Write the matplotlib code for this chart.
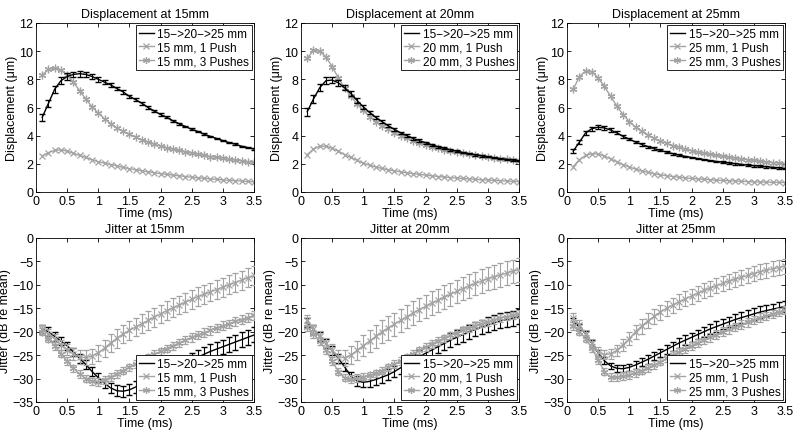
import numpy as np
import matplotlib
matplotlib.use("Agg")
import matplotlib.pyplot as plt
from matplotlib.lines import Line2D

t = np.round(np.arange(1, 36) * 0.1, 1)

depths = ["15", "20", "25"]

# displacement (um), black = 15->20->25 mm sequence
disp_seq = {
    "15": [5.3, 6.3, 7.3, 7.9, 8.2, 8.35, 8.4, 8.35, 8.2, 8.0, 7.8, 7.6, 7.35, 7.1, 6.8, 6.55, 6.3, 6.0,
           5.75, 5.5, 5.3, 5.05, 4.85, 4.65, 4.45, 4.3, 4.1, 3.95, 3.8, 3.65, 3.5, 3.4, 3.25, 3.15, 3.05],
    "20": [5.7, 6.6, 7.4, 7.9, 7.95, 7.75, 7.4, 7.0, 6.5, 6.05, 5.65, 5.3, 5.0, 4.7, 4.45, 4.2, 4.0, 3.8,
           3.65, 3.5, 3.35, 3.22, 3.1, 3.0, 2.9, 2.8, 2.72, 2.64, 2.57, 2.5, 2.43, 2.37, 2.32, 2.27, 2.22],
    "25": [2.9, 3.55, 4.2, 4.5, 4.6, 4.55, 4.4, 4.2, 3.95, 3.75, 3.55, 3.38, 3.22, 3.08, 2.95, 2.83, 2.72,
           2.62, 2.53, 2.45, 2.37, 2.3, 2.23, 2.17, 2.11, 2.06, 2.01, 1.96, 1.91, 1.87, 1.83, 1.79, 1.75,
           1.71, 1.67],
}
disp_seq_err = {
    "15": [0.25, 0.25, 0.25, 0.25, 0.22, 0.2, 0.2, 0.2, 0.18, 0.16, 0.15, 0.14, 0.13, 0.12, 0.12, 0.11,
           0.1, 0.1, 0.09, 0.09, 0.08, 0.08, 0.07, 0.07, 0.07, 0.06, 0.06, 0.06, 0.06, 0.05, 0.05, 0.05,
           0.05, 0.05, 0.05],
    "20": [0.3, 0.28, 0.26, 0.25, 0.22, 0.2, 0.18, 0.17, 0.15, 0.14, 0.13, 0.12, 0.11, 0.1, 0.1, 0.09,
           0.09, 0.08, 0.08, 0.07, 0.07, 0.07, 0.06, 0.06, 0.06, 0.06, 0.05, 0.05, 0.05, 0.05, 0.05, 0.05,
           0.05, 0.05, 0.05],
    "25": [0.15, 0.15, 0.15, 0.14, 0.13, 0.12, 0.11, 0.1, 0.1, 0.09, 0.09, 0.08, 0.08, 0.08, 0.07, 0.07,
           0.07, 0.07, 0.06, 0.06, 0.06, 0.06, 0.06, 0.06, 0.06, 0.06, 0.06, 0.06, 0.06, 0.06, 0.06, 0.06,
           0.06, 0.06, 0.06],
}
disp_1push = {
    "15": [2.55, 2.8, 2.95, 3.0, 2.9, 2.75, 2.6, 2.45, 2.3, 2.15, 2.05, 1.95, 1.85, 1.75, 1.65, 1.58, 1.5,
           1.43, 1.37, 1.3, 1.25, 1.2, 1.15, 1.1, 1.05, 1.0, 0.97, 0.93, 0.9, 0.86, 0.83, 0.8, 0.78, 0.75,
           0.72],
    "20": [2.65, 3.05, 3.25, 3.25, 3.1, 2.9, 2.65, 2.45, 2.25, 2.05, 1.9, 1.78, 1.67, 1.58, 1.5, 1.43, 1.36,
           1.3, 1.25, 1.2, 1.15, 1.1, 1.06, 1.02, 0.99, 0.96, 0.93, 0.9, 0.87, 0.85, 0.82, 0.8, 0.78, 0.76,
           0.74],
    "25": [1.8, 2.3, 2.6, 2.72, 2.7, 2.55, 2.35, 2.15, 1.95, 1.78, 1.62, 1.5, 1.4, 1.3, 1.22, 1.15, 1.1,
           1.05, 1.0, 0.96, 0.93, 0.9, 0.87, 0.84, 0.82, 0.8, 0.78, 0.76, 0.74, 0.72, 0.71, 0.7, 0.69, 0.68,
           0.67],
}
disp_3push = {
    "15": [8.3, 8.7, 8.8, 8.65, 8.3, 7.8, 7.2, 6.6, 6.05, 5.6, 5.2, 4.85, 4.55, 4.3, 4.1, 3.9, 3.7, 3.55,
           3.4, 3.25, 3.15, 3.05, 2.95, 2.85, 2.75, 2.67, 2.6, 2.52, 2.45, 2.4, 2.33, 2.27, 2.22, 2.15, 2.1],
    "20": [9.5, 10.05, 10.0, 9.6, 8.9, 8.1, 7.4, 6.8, 6.25, 5.8, 5.35, 5.0, 4.7, 4.45, 4.2, 4.0, 3.82,
           3.65, 3.5, 3.35, 3.22, 3.1, 3.0, 2.9, 2.82, 2.74, 2.67, 2.6, 2.54, 2.48, 2.42, 2.37, 2.32, 2.27,
           2.22],
    "25": [7.3, 8.2, 8.6, 8.55, 8.1, 7.5, 6.8, 6.1, 5.5, 5.0, 4.6, 4.3, 4.05, 3.82, 3.62, 3.45, 3.3, 3.17,
           3.05, 2.94, 2.84, 2.75, 2.67, 2.6, 2.53, 2.46, 2.4, 2.35, 2.29, 2.24, 2.19, 2.14, 2.09, 2.05,
           2.01],
}

# jitter (dB re mean)
jit_seq = {
    "15": [-19.5, -20.0, -21.0, -22.0, -23.0, -24.3, -25.7, -27.0, -28.5, -29.8, -31.0, -32.0, -32.6,
           -32.7, -32.4, -31.8, -31.2, -30.5, -29.8, -29.2, -28.5, -27.9, -27.2, -26.6, -26.0, -25.4,
           -24.8, -24.2, -23.7, -23.2, -22.7, -22.2, -21.7, -21.2, -20.7],
    "20": [-18.0, -19.5, -21.0, -22.5, -24.0, -25.7, -27.5, -29.5, -30.5, -30.8, -30.6, -30.2, -29.7,
           -29.2, -28.5, -27.7, -26.9, -26.1, -25.3, -24.6, -23.9, -23.2, -22.5, -21.8, -21.2, -20.6,
           -20.0, -19.5, -19.0, -18.5, -18.1, -17.7, -17.4, -17.1, -16.8],
    "25": [-17.8, -19.0, -20.5, -22.5, -24.5, -26.2, -27.3, -27.8, -27.9, -27.6, -27.1, -26.5, -25.9,
           -25.2, -24.5, -23.8, -23.1, -22.4, -21.8, -21.2, -20.6, -20.0, -19.4, -18.9, -18.4, -17.9,
           -17.4, -17.0, -16.6, -16.2, -15.8, -15.5, -15.2, -14.9, -14.6],
}
jit_seq_err = {
    "15": [0.9, 0.9, 0.9, 0.9, 0.9, 0.9, 0.9, 0.9, 0.9, 0.9, 1.0, 1.1, 1.2, 1.2, 1.2, 1.2, 1.2, 1.3, 1.3,
           1.3, 1.3, 1.4, 1.4, 1.4, 1.4, 1.5, 1.5, 1.5, 1.5, 1.5, 1.6, 1.6, 1.6, 1.6, 1.6],
    "20": [0.9, 0.9, 0.9, 0.9, 0.9, 0.9, 0.9, 0.9, 1.0, 1.0, 1.1, 1.1, 1.2, 1.2, 1.2, 1.3, 1.3, 1.3, 1.3,
           1.4, 1.4, 1.4, 1.4, 1.5, 1.5, 1.5, 1.5, 1.5, 1.5, 1.6, 1.6, 1.6, 1.6, 1.6, 1.6],
    "25": [0.7, 0.7, 0.7, 0.7, 0.7, 0.7, 0.7, 0.7, 0.8, 0.8, 0.8, 0.9, 0.9, 0.9, 0.9, 1.0, 1.0, 1.0, 1.0,
           1.0, 1.0, 1.1, 1.1, 1.1, 1.1, 1.1, 1.1, 1.2, 1.2, 1.2, 1.2, 1.2, 1.2, 1.2, 1.2],
}
jit_1push = {
    "15": [-19.5, -20.5, -21.5, -22.8, -23.8, -24.7, -25.4, -25.5, -25.2, -24.5, -23.5, -22.4, -21.4,
           -20.5, -19.7, -19.0, -18.3, -17.6, -16.9, -16.2, -15.5, -14.9, -14.3, -13.7, -13.1, -12.5,
           -12.0, -11.5, -11.0, -10.5, -10.0, -9.5, -9.0, -8.5, -8.0],
    "20": [-17.5, -19.5, -21.0, -22.5, -24.0, -25.3, -25.6, -25.0, -24.0, -23.0, -22.0, -21.0, -20.0,
           -19.2, -18.4, -17.6, -16.8, -16.0, -15.3, -14.6, -13.9, -13.3, -12.6, -12.0, -11.4, -10.8,
           -10.2, -9.7, -9.2, -8.7, -8.3, -7.9, -7.5, -7.1, -6.8],
    "25": [-17.0, -18.5, -20.5, -22.5, -24.3, -24.9, -24.7, -24.0, -22.8, -21.5, -20.0, -18.8, -17.7,
           -16.7, -15.8, -15.0, -14.3, -13.6, -13.0, -12.4, -11.8, -11.2, -10.7, -10.2, -9.7, -9.2,
           -8.8, -8.4, -8.0, -7.6, -7.2, -6.9, -6.6, -6.3, -6.0],
}
jit_1push_err = {
    "15": [1.0, 1.0, 1.1, 1.1, 1.2, 1.3, 1.4, 1.5, 1.6, 1.7, 1.8, 1.9, 2.0, 2.0, 2.0, 2.0, 2.0, 2.0, 2.0,
           2.0, 2.0, 2.0, 2.0, 2.0, 2.0, 2.0, 2.0, 2.0, 2.0, 2.0, 2.0, 2.0, 2.0, 2.0, 2.0],
    "20": [1.0, 1.0, 1.1, 1.2, 1.3, 1.5, 1.7, 1.9, 2.0, 2.2, 2.3, 2.4, 2.5, 2.5, 2.5, 2.5, 2.5, 2.5, 2.5,
           2.5, 2.5, 2.5, 2.5, 2.5, 2.5, 2.5, 2.5, 2.5, 2.5, 2.5, 2.5, 2.5, 2.5, 2.5, 2.5],
    "25": [0.9, 0.9, 0.9, 1.0, 1.0, 1.0, 1.1, 1.2, 1.3, 1.4, 1.5, 1.6, 1.6, 1.6, 1.6, 1.6, 1.6, 1.6, 1.6,
           1.6, 1.6, 1.6, 1.6, 1.6, 1.6, 1.6, 1.6, 1.6, 1.6, 1.6, 1.6, 1.6, 1.6, 1.6, 1.6],
}
jit_3push = {
    "15": [-20.0, -21.5, -23.0, -24.7, -26.3, -27.8, -29.0, -30.0, -30.6, -30.7, -30.3, -29.7, -29.0,
           -28.3, -27.6, -26.9, -26.2, -25.5, -24.8, -24.2, -23.6, -23.0, -22.4, -21.8, -21.2, -20.7,
           -20.2, -19.7, -19.2, -18.7, -18.3, -17.8, -17.4, -17.0, -16.5],
    "20": [-19.0, -20.5, -22.0, -24.0, -26.3, -28.5, -29.8, -30.1, -29.9, -29.6, -29.3, -28.9, -28.3,
           -27.6, -26.9, -26.2, -25.5, -24.7, -24.0, -23.3, -22.6, -22.0, -21.4, -20.8, -20.2, -19.7,
           -19.2, -18.7, -18.3, -17.9, -17.5, -17.1, -16.8, -16.5, -16.2],
    "25": [-18.8, -20.0, -21.5, -23.5, -26.0, -28.5, -29.7, -29.7, -29.5, -29.2, -28.8, -28.3, -27.7,
           -27.1, -26.4, -25.7, -25.0, -24.3, -23.6, -23.0, -22.4, -21.8, -21.2, -20.6, -20.0, -19.5,
           -19.0, -18.5, -18.0, -17.5, -17.0, -16.6, -16.2, -15.8, -15.4],
}
jit_3push_err = {
    "15": [0.8, 0.8, 0.8, 0.8, 0.8, 0.8, 0.8, 0.8, 0.8, 0.8, 0.8, 0.8, 0.8, 0.8, 0.8, 0.8, 0.8, 0.8, 0.8,
           0.8, 0.8, 0.8, 0.8, 0.8, 0.9, 0.9, 0.9, 0.9, 0.9, 0.9, 0.9, 0.9, 0.9, 0.9, 0.9],
    "20": [0.8, 0.8, 0.8, 0.8, 0.8, 0.8, 0.8, 0.8, 0.8, 0.8, 0.8, 0.8, 0.8, 0.8, 0.8, 0.8, 0.8, 0.8, 0.8,
           0.8, 0.8, 0.8, 0.8, 0.8, 0.8, 0.8, 0.8, 0.8, 0.8, 0.8, 0.8, 0.8, 0.8, 0.8, 0.8],
    "25": [0.8, 0.8, 0.8, 0.8, 0.8, 0.8, 0.8, 0.8, 0.8, 0.8, 0.8, 0.8, 0.8, 0.8, 0.8, 0.8, 0.8, 0.9, 0.9,
           0.9, 0.9, 0.9, 0.9, 0.9, 0.9, 0.9, 0.9, 0.9, 0.9, 0.9, 0.9, 0.9, 0.9, 0.9, 0.9],
}

xticks = [0, 0.5, 1, 1.5, 2, 2.5, 3, 3.5]
xticklabels = ["0", "0.5", "1", "1.5", "2", "2.5", "3", "3.5"]

plt.rcParams['font.family'] = ['Liberation Sans', 'DejaVu Sans']
plt.rcParams['font.size'] = 9

GRAY = '#a3a3a3'
ASTER = (6, 2, 0)

fig = plt.figure(figsize=(8.0, 4.35), dpi=100)
W, H = 800, 435
lefts = [36, 301, 567]
width = 218
top_row = (24, 193)
bot_row = (239, 403)


def style_axes(ax):
    ax.set_xlim(0, 3.5)
    ax.set_xticks(xticks)
    ax.set_xticklabels(xticklabels)
    ax.tick_params(direction='in', top=True, right=True, length=3, width=0.6, pad=2)
    for s in ax.spines.values():
        s.set_linewidth(0.6)
    ax.set_xlabel('Time (ms)', labelpad=0)


def add_legend(ax, d, loc):
    handles = [
        Line2D([], [], color='k', lw=1.0),
        Line2D([], [], color=GRAY, lw=1.0, marker='x', ms=4, mew=0.9),
        Line2D([], [], color=GRAY, lw=1.0, marker=ASTER, ms=5, mew=0.9),
    ]
    labels = ['15−>20−>25 mm', f'{d} mm, 1 Push', f'{d} mm, 3 Pushes']
    leg = ax.legend(handles, labels, loc=loc, fontsize=8.5, frameon=True, fancybox=False,
                    borderpad=0.25, handlelength=1.3, handletextpad=0.3, labelspacing=0.15,
                    borderaxespad=0.15, framealpha=1)
    leg.get_frame().set_edgecolor('k')
    leg.get_frame().set_linewidth(0.6)


for i, d in enumerate(depths):
    # displacement panel
    y0, y1 = top_row
    ax = fig.add_axes([lefts[i] / W, 1 - y1 / H, width / W, (y1 - y0) / H])
    ax.plot(t, disp_1push[d], color=GRAY, marker='x', ms=4, mew=0.9, lw=1.0)
    ax.plot(t, disp_3push[d], color=GRAY, marker=ASTER, ms=5.5, mew=0.9, lw=1.0)
    ax.errorbar(t, disp_seq[d], yerr=disp_seq_err[d], color='k', lw=1.0, capsize=2,
                elinewidth=0.8, zorder=3)
    ax.set_ylim(0, 12)
    ax.set_yticks(range(0, 13, 2))
    ax.set_ylabel('Displacement (μm)', labelpad=1)
    ax.set_title(f'Displacement at {d}mm', fontsize=9, pad=4)
    style_axes(ax)
    add_legend(ax, d, 'upper right')

    # jitter panel
    y0, y1 = bot_row
    ax = fig.add_axes([lefts[i] / W, 1 - y1 / H, width / W, (y1 - y0) / H])
    ax.errorbar(t, jit_seq[d], yerr=jit_seq_err[d], color='k', lw=1.0, capsize=2,
                elinewidth=0.8, zorder=2)
    ax.errorbar(t, jit_1push[d], yerr=jit_1push_err[d], color=GRAY, marker='x', ms=4,
                mew=0.9, lw=1.0, capsize=2, elinewidth=0.8, zorder=3)
    ax.errorbar(t, jit_3push[d], yerr=jit_3push_err[d], color=GRAY, marker=ASTER, ms=5.5,
                mew=0.9, lw=1.0, capsize=2, elinewidth=0.8, zorder=3)
    ax.set_ylim(-35, 0)
    ax.set_yticks(range(-35, 1, 5))
    ax.set_ylabel('Jitter (dB re mean)', labelpad=1)
    ax.set_title(f'Jitter at {d}mm', fontsize=9, pad=4)
    style_axes(ax)
    add_legend(ax, d, 'lower right')

fig.savefig('out.png', dpi=100)
